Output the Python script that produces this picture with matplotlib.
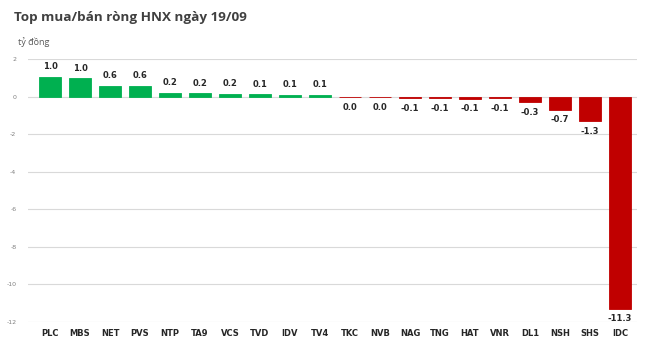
import matplotlib
matplotlib.use("Agg")
import matplotlib.pyplot as plt

tickers = ["PLC", "MBS", "NET", "PVS", "NTP", "TA9", "VCS", "TVD", "IDV", "TV4",
           "TKC", "NVB", "NAG", "TNG", "HAT", "VNR", "DL1", "NSH", "SHS", "IDC"]
values = [1.04, 0.98, 0.58, 0.57, 0.21, 0.17, 0.16, 0.12, 0.11, 0.11,
          -0.04, -0.04, -0.1, -0.1, -0.11, -0.1, -0.3, -0.7, -1.3, -11.3]
yticks = [2, 0, -2, -4, -6, -8, -10, -12]

fig = plt.figure(figsize=(6.5, 3.53), dpi=100)
# 30 px per category, first bar centred at x=50
ax = fig.add_axes([27.5 / 650, 1 - 322 / 353, 609 / 650, 263 / 353])

x = list(range(len(tickers)))
colors = ["#00B050" if v >= 0 else "#C00000" for v in values]
ax.bar(x, values, width=0.74, color=colors, edgecolor=colors, linewidth=0.6, zorder=3)

for i, v in enumerate(values):
    label = f"{v:.1f}"
    if label == "-0.0":
        label = "0.0"
    if v >= 0:
        ax.text(i, v + 0.3, label, ha="center", va="bottom", fontsize=6,
                fontweight="bold", color="#262626")
    else:
        ax.text(i, v - 0.3, label, ha="center", va="top", fontsize=6,
                fontweight="bold", color="#262626")

ax.set_xlim(-0.75, len(tickers) - 0.45)
ax.set_ylim(-12, 2)
ax.set_yticks(yticks)
ax.set_yticklabels([str(t) for t in yticks], fontsize=4.5, color="#808080")
ax.set_xticks(x)
ax.set_xticklabels(tickers, fontsize=6, fontweight="bold", color="#262626")
ax.tick_params(axis="both", length=0)
ax.tick_params(axis="x", pad=5)
ax.tick_params(axis="y", pad=8)
ax.grid(axis="y", color="#D9D9D9", linewidth=0.8, zorder=0)
for s in ax.spines.values():
    s.set_visible(False)

fig.text(14 / 650, 1 - 17 / 353, "Top mua/bán ròng HNX ngày 19/09", fontsize=9.7,
         family="Open Sans", fontweight="bold", color="#404040", va="center")
fig.text(18 / 650, 1 - 42 / 353, "tỷ đồng", fontsize=6.5, family="Open Sans",
         color="#595959", va="center")

fig.savefig("out.png", dpi=100, facecolor="white")
